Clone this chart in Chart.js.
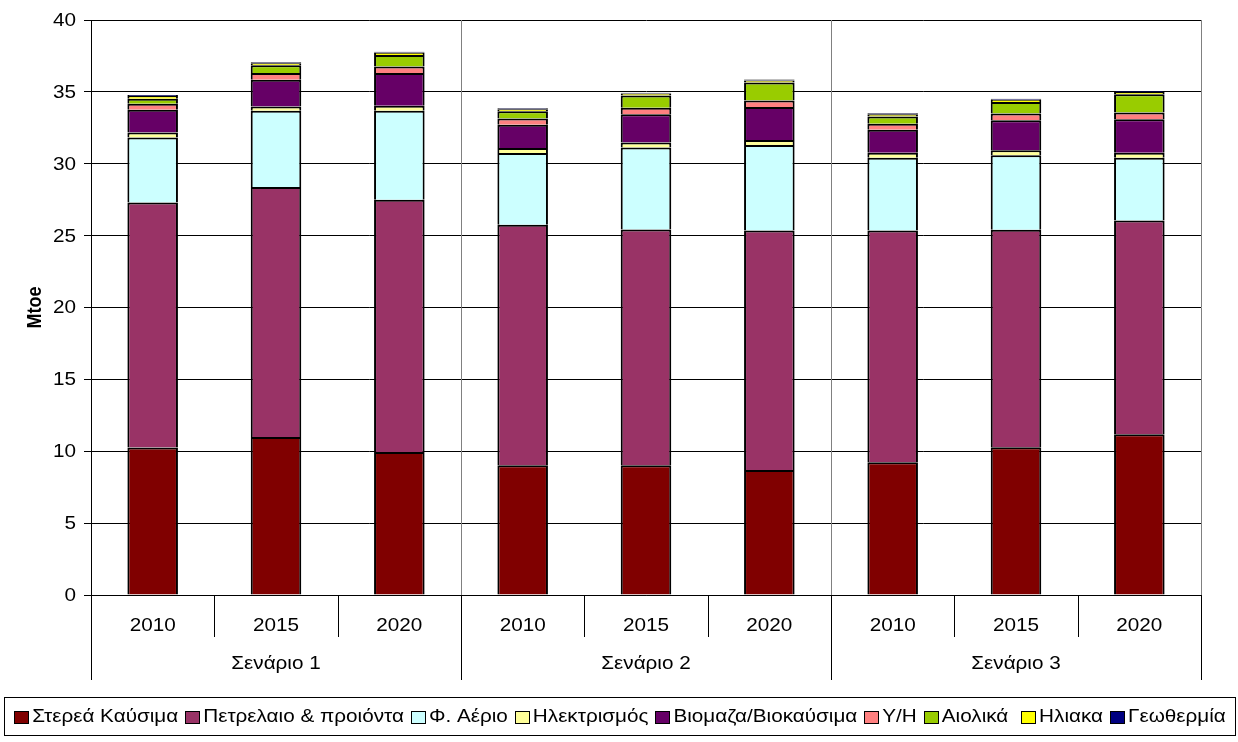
<!DOCTYPE html>
<html>
<head>
<meta charset="utf-8">
<title>Τελική κατανάλωση ενέργειας ανά σενάριο</title>
<script src="https://cdn.jsdelivr.net/npm/chart.js@4/dist/chart.umd.min.js"></script>
<style>
  html, body { margin: 0; padding: 0; background: #ffffff; }
  #wrap { width: 1238px; height: 742px; }
</style>
</head>
<body>
<div id="wrap"><canvas id="chart" width="1238" height="742"></canvas></div>
<script>
// Years on the category axis, grouped three per scenario
const years = ['2010', '2015', '2020', '2010', '2015', '2020', '2010', '2015', '2020'];
const scenarios = ['Σενάριο 1', 'Σενάριο 2', 'Σενάριο 3'];
const yearsPerScenario = 3;

// Energy carriers, Mtoe (stacked from the bottom up)
const solidFuels  = [10.26, 11.00, 9.94, 9.03, 9.03, 8.69, 9.24, 10.28, 11.19];
const oilProducts = [17.05, 17.38, 17.56, 16.73, 16.40, 16.67, 16.12, 15.13, 14.87];
const naturalGas  = [4.51, 5.30, 6.18, 4.99, 5.70, 5.94, 5.06, 5.18, 4.36];
const electricity = [0.35, 0.31, 0.36, 0.35, 0.35, 0.35, 0.35, 0.35, 0.35];
const biomass     = [1.59, 1.86, 2.27, 1.62, 1.96, 2.29, 1.60, 2.09, 2.33];
const hydro       = [0.42, 0.47, 0.46, 0.42, 0.46, 0.46, 0.42, 0.46, 0.46];
const wind        = [0.35, 0.53, 0.80, 0.51, 0.84, 1.25, 0.49, 0.81, 1.27];
const solar       = [0.18, 0.15, 0.17, 0.15, 0.14, 0.15, 0.16, 0.16, 0.16];
const geothermal  = [0.07, 0.06, 0.06, 0.06, 0.06, 0.06, 0.07, 0.07, 0.07];

const yTicks = { min: 0, max: 40, step: 5 };
const yTitle = 'Mtoe';

const FONT = "'Liberation Sans', Arial, sans-serif";
const TEXT_SIZE = 18;
const STRETCH = 1.15;   // glyphs are drawn slightly wide
Chart.defaults.font.family = FONT;
Chart.defaults.color = '#000000';

const series = [
  { label: 'Στερεά Καύσιμα',       data: solidFuels,  color: '#800000' },
  { label: 'Πετρελαιο & προιόντα', data: oilProducts, color: '#993366' },
  { label: 'Φ. Αέριο',             data: naturalGas,  color: '#CCFFFF' },
  { label: 'Ηλεκτρισμός',          data: electricity, color: '#FFFF99' },
  { label: 'Βιομαζα/Βιοκαύσιμα',   data: biomass,     color: '#660066' },
  { label: 'Υ/Η',                  data: hydro,       color: '#FF8080' },
  { label: 'Αιολικά ',             data: wind,        color: '#99CC00' },
  { label: 'Ηλιακα',               data: solar,       color: '#FFFF00' },
  { label: 'Γεωθερμία',            data: geothermal,  color: '#000080' }
];

function wideText(ctx, text, x, y, align) {
  ctx.save();
  ctx.translate(x, y);
  ctx.scale(STRETCH, 1);
  ctx.textAlign = align;
  ctx.fillText(text, 0, 0);
  ctx.restore();
}

// Tick labels, two-level category axis, plot frame and boxed legend
const chartDecor = {
  id: 'chartDecor',
  afterDraw(chart) {
    const { ctx, chartArea: area, scales: { x, y } } = chart;
    const n = years.length;
    const half = (x.getPixelForValue(1) - x.getPixelForValue(0)) / 2;
    const yearTick = 42;
    const groupTick = 85;
    const snap = v => Math.round(v) + 0.5;

    ctx.save();
    // plot area right border
    ctx.strokeStyle = '#808080';
    ctx.lineWidth = 1;
    ctx.beginPath();
    ctx.moveTo(snap(area.right), area.top);
    ctx.lineTo(snap(area.right), area.bottom);
    ctx.stroke();

    for (let i = 0; i <= n; i++) {
      const px = snap(i < n ? x.getPixelForValue(i) - half : x.getPixelForValue(n - 1) + half);
      const isGroup = i % yearsPerScenario === 0;
      if (isGroup && i > 0 && i < n) {
        ctx.strokeStyle = '#808080';
        ctx.beginPath();
        ctx.moveTo(px, area.top);
        ctx.lineTo(px, area.bottom);
        ctx.stroke();
      }
      ctx.strokeStyle = '#000000';
      ctx.beginPath();
      ctx.moveTo(px, area.bottom);
      ctx.lineTo(px, area.bottom + (isGroup ? groupTick : yearTick));
      ctx.stroke();
    }

    ctx.fillStyle = '#000000';
    ctx.font = TEXT_SIZE + 'px ' + FONT;
    ctx.textBaseline = 'middle';

    // y tick labels
    y.ticks.forEach(t => {
      wideText(ctx, String(t.value), area.left - 15, y.getPixelForValue(t.value) + 1, 'right');
    });
    // year labels
    years.forEach((yr, i) => {
      wideText(ctx, yr, x.getPixelForValue(i), area.bottom + 31, 'center');
    });
    // scenario labels
    scenarios.forEach((name, g) => {
      const a = x.getPixelForValue(g * yearsPerScenario);
      const b = x.getPixelForValue(g * yearsPerScenario + yearsPerScenario - 1);
      wideText(ctx, name, (a + b) / 2, area.bottom + 69, 'center');
    });
    // y axis title
    ctx.save();
    ctx.font = 'bold ' + TEXT_SIZE + 'px ' + FONT;
    ctx.translate(35, (area.top + area.bottom) / 2);
    ctx.scale(STRETCH, 1);
    ctx.rotate(-Math.PI / 2);
    ctx.textAlign = 'center';
    ctx.fillText(yTitle, 0, 0);
    ctx.restore();

    // legend
    const boxW = 14, boxH = 12, boxGap = 4, itemGap = 7;
    ctx.font = TEXT_SIZE + 'px ' + FONT;
    const widths = chart.data.datasets.map(d => ctx.measureText(d.label).width * STRETCH);
    const total = widths.reduce((s, w) => s + boxW + boxGap + w, 0) + itemGap * (widths.length - 1);
    const frameL = 4.5, frameR = chart.width - 2.5;
    const frameT = area.bottom + 102.5, frameB = area.bottom + 140.5;
    ctx.strokeStyle = '#000000';
    ctx.strokeRect(frameL, frameT, frameR - frameL, frameB - frameT);
    let cx = (frameL + frameR) / 2 - total / 2;
    const cy = (frameT + frameB) / 2;
    chart.data.datasets.forEach((d, i) => {
      const bx = Math.round(cx) + 0.5, by = Math.round(cy - boxH / 2) + 0.5;
      ctx.fillStyle = d.backgroundColor;
      ctx.fillRect(bx, by, boxW, boxH);
      ctx.strokeStyle = '#000000';
      ctx.strokeRect(bx, by, boxW, boxH);
      ctx.fillStyle = '#000000';
      wideText(ctx, d.label, cx + boxW + boxGap, cy + 1, 'left');
      cx += boxW + boxGap + widths[i] + itemGap;
    });
    ctx.restore();
  }
};

new Chart(document.getElementById('chart'), {
  type: 'bar',
  data: {
    labels: years,
    datasets: series.map(s => ({
      label: s.label,
      data: s.data,
      backgroundColor: s.color,
      borderColor: '#000000',
      borderWidth: 2,
      categoryPercentage: 1,
      barPercentage: 0.41
    }))
  },
  options: {
    responsive: false,
    animation: false,
    devicePixelRatio: 1,
    layout: { padding: { left: 0, right: 37, top: 20, bottom: 57 } },
    plugins: {
      legend: { display: false },
      tooltip: { enabled: false }
    },
    scales: {
      x: {
        stacked: true,
        offset: true,
        grid: { display: false, drawTicks: false },
        border: { display: true, color: '#000000' },
        ticks: { display: false },
        afterFit: s => { s.height = 90; }
      },
      y: {
        stacked: true,
        min: yTicks.min,
        max: yTicks.max,
        ticks: { stepSize: yTicks.step, display: false },
        grid: { color: '#000000', lineWidth: 1, tickLength: 7, drawTicks: true },
        border: { display: true, color: '#000000' },
        afterFit: s => { s.width = 91; }
      }
    }
  },
  plugins: [chartDecor]
});
</script>
</body>
</html>
